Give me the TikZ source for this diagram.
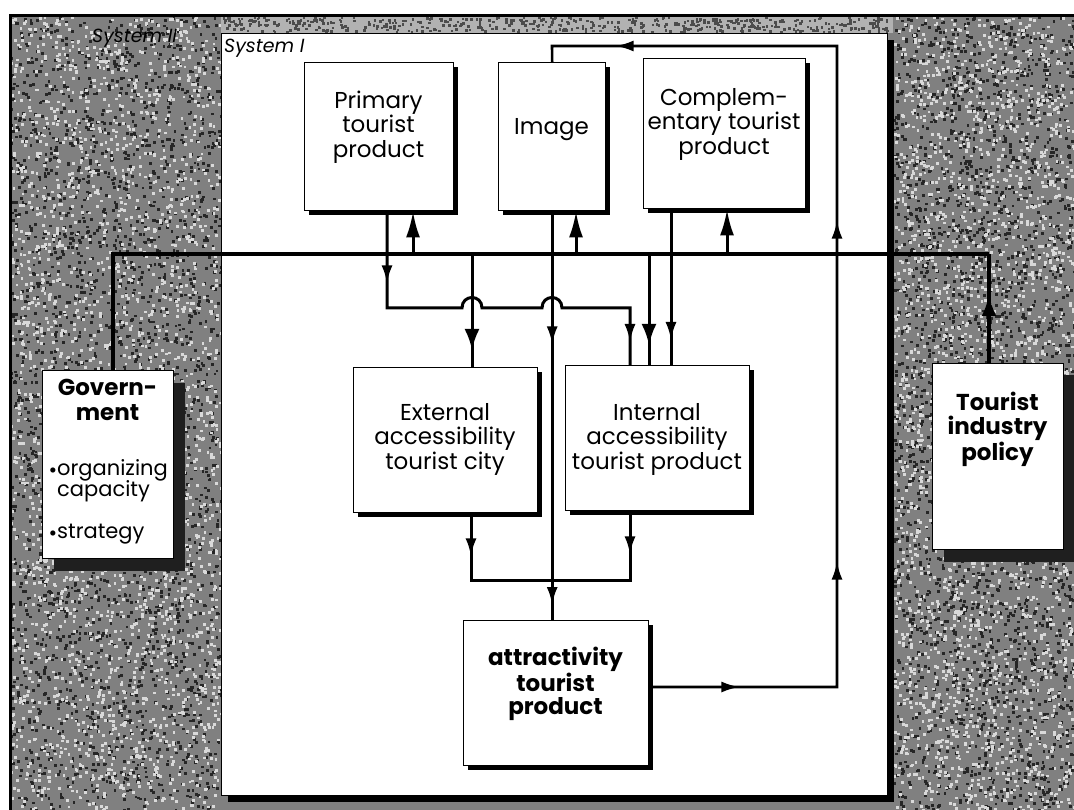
\documentclass[tikz,border=0pt]{standalone}
\usepackage{fontspec}
\setmainfont{Poppins}
\usetikzlibrary{arrows.meta,decorations.markings,shadows}

\tikzset{
  smalltip/.tip={Latex[length=18pt,width=11pt]},
  bigtip/.tip={Latex[length=21pt,width=15pt]},
  uptip/.tip={Latex[length=26pt,width=14pt]},
  conn/.style={line width=3pt},
  tipat/.style={postaction={decorate,decoration={markings,mark=at position #1 with {\arrow{smalltip}}}}},
  bigtipat/.style={postaction={decorate,decoration={markings,mark=at position #1 with {\arrow{bigtip}}}}},
  tbox/.style={draw=black, line width=1.4pt, fill=white, inner sep=0pt, anchor=north west,
    general shadow={fill=black, shadow xshift=4pt, shadow yshift=-4pt}},
  actor/.style={draw=black, line width=1pt, fill=white, inner sep=0pt, anchor=north west,
    general shadow={fill=black!88, shadow xshift=11pt, shadow yshift=-12pt}},
  txt/.style={font=\fontsize{23}{24.5}\selectfont, align=center, inner sep=0pt},
  btxt/.style={font=\bfseries\fontsize{23}{24.5}\selectfont, align=center, inner sep=0pt},
  itemtxt/.style={font=\fontsize{21}{21}\selectfont, anchor=base west, inner sep=0pt},
  syslabel/.style={font=\itshape\fontsize{19}{20}\selectfont, anchor=base west, inner sep=0pt},
  grain/.style={fill=#1},
}

\begin{document}
\begin{tikzpicture}[x=1pt,y=-1pt]
\useasboundingbox (0,0) rectangle (1074,810);

% System II: grainy surround
\fill[black!50] (10,16) rectangle (1080,815);
\fill[black!30] (221,16) rectangle (893,33);
\pgfmathsetseed{2718}
\foreach \i in {1,...,2600}{
  \pgfmathsetmacro{\px}{10+211*rnd}
  \pgfmathsetmacro{\py}{16+794*rnd}
  \fill[grain=black!85] (\px,\py) rectangle ++(2.8,2.8);
  \pgfmathsetmacro{\qx}{893+181*rnd}
  \pgfmathsetmacro{\qy}{16+794*rnd}
  \fill[grain=black!85] (\qx,\qy) rectangle ++(2.8,2.8);
}
\foreach \i in {1,...,2600}{
  \pgfmathsetmacro{\px}{10+211*rnd}
  \pgfmathsetmacro{\py}{16+794*rnd}
  \fill[grain=white!85!black] (\px,\py) rectangle ++(2.8,2.8);
  \pgfmathsetmacro{\qx}{893+181*rnd}
  \pgfmathsetmacro{\qy}{16+794*rnd}
  \fill[grain=white!85!black] (\qx,\qy) rectangle ++(2.8,2.8);
}
\foreach \i in {1,...,500}{
  \pgfmathsetmacro{\px}{221+672*rnd}
  \pgfmathsetmacro{\py}{16+15*rnd}
  \fill[grain=black!70] (\px,\py) rectangle ++(2.6,2.6);
}
\draw[line width=3pt] (10,812) -- (10,16) -- (1076,16);
\node[syslabel] (sys2L) at (92,43) {System II};

% System I
\node[draw=black, line width=1.2pt, fill=white, inner sep=0pt, anchor=north west,
  minimum width=666pt, minimum height=762pt,
  general shadow={fill=black, shadow xshift=6pt, shadow yshift=-6pt}] (sys1) at (221,33) {};
\node[syslabel] (sys1L) at (224,53) {System I};

% boxes
\node[tbox, minimum width=149pt, minimum height=148pt] (prim) at (304,62) {};
\node[tbox, minimum width=107pt, minimum height=148pt] (img) at (498,62) {};
\node[tbox, minimum width=162pt, minimum height=150pt] (comp) at (643,58) {};
\node[tbox, minimum width=184pt, minimum height=145pt] (ext) at (353,367) {};
\node[tbox, minimum width=184pt, minimum height=145pt] (int) at (565,365) {};
\node[tbox, minimum width=185pt, minimum height=145pt] (attr) at (463,620) {};
\node[actor, minimum width=131pt, minimum height=188pt] (gov) at (42,370) {};
\node[actor, minimum width=131pt, minimum height=186pt] (tour) at (932,363) {};

% box texts
\node[txt] (primT) at (378.5,127) {Primary\\tourist\\product};
\node[txt] (imgT) at (551.5,130) {Image};
\node[txt] (compT) at (724,124) {Complem-\\entary tourist\\product};
\node[txt] (extT) at (445,439) {External\\accessibility\\tourist city};
\node[txt] (intT) at (657,439) {Internal\\accessibility\\tourist product};
\node[btxt, font=\bfseries\fontsize{23}{23}\selectfont] (attrT) at (555.5,684) {attractivity\\tourist\\product};
\node[btxt] (govT) at (107.5,400) {Govern-\\ment};
\node[itemtxt] (govA) at (57,475) {\llap{\raisebox{-0.12em}{\textbullet}}organizing};
\node[itemtxt] (govB) at (57,496) {capacity};
\node[itemtxt] (govC) at (57,538) {\llap{\raisebox{-0.12em}{\textbullet}}strategy};
\node[btxt] (tourT) at (997.5,429) {Tourist\\industry\\policy};

% junction points
\coordinate (busL) at (113,254);
\coordinate (busR) at (989,254);
\coordinate (join) at (552,580);

% policy bus between government and tourist industry
\draw[conn, line width=3.4pt] (113,0 |- gov.north) -- (busL) -- (busR);
\draw[conn, line width=3.4pt, bigtipat=68pt] (989,0 |- tour.north) -- (busR);

% bus feeding the three top factors
\draw[conn, -{uptip}] (413,0 |- busL) -- (413,0 |- prim.south);
\draw[conn, -{uptip}] (576,0 |- busL) -- (576,0 |- img.south);
\draw[conn, -{uptip}] (727,0 |- busL) -- (727,0 |- comp.south);

% bus feeding the accessibility boxes
\draw[conn, bigtipat=-17pt] (472,0 |- busL) -- (472,0 |- ext.north);
\draw[conn, bigtipat=-20pt] (649,0 |- busL) -- (649,0 |- int.north);

% primary product to internal accessibility, hopping over two lines
\draw[conn, tipat=72pt, tipat=-23pt] (387,0 |- prim.south) -- (387,308) -- (462,308)
  .. controls (462,294) and (482,294) .. (482,308) -- (542,308)
  .. controls (542,294) and (562,294) .. (562,308) -- (630,308) -- (630,0 |- int.north);

% complementary product to internal accessibility
\draw[conn, tipat=-25pt] (671,0 |- comp.south) -- (671,0 |- int.north);

% image straight down to attractivity
\draw[conn, tipat=133pt, tipat=-15pt] (img.south) -- (img.south |- attr.north);

% accessibility boxes merging into the image line
\draw[conn, tipat=43pt] (471,0 |- ext.south) -- (471,580) -- (join);
\draw[conn, tipat=43pt] (630,0 |- int.south) -- (630,580) -- (join);

% feedback loop from attractivity back to image
\draw[conn, line width=2.6pt, tipat=90pt, tipat=313pt, tipat=654pt, tipat=1050pt]
  (attr.east |- 0,687) -- (837,687) -- (837,46) -- (552,46) -- (img.north);
\end{tikzpicture}
\end{document}
